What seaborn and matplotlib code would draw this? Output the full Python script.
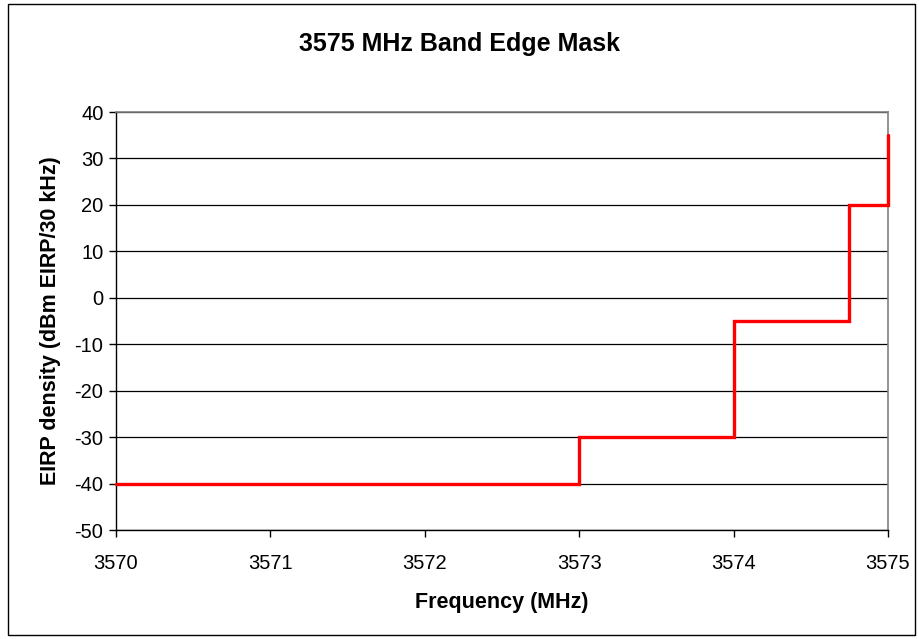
import matplotlib
matplotlib.use("Agg")
import matplotlib.pyplot as plt
import seaborn as sns
import pandas as pd
from matplotlib.patches import Rectangle

freq = [3570, 3573, 3573, 3574, 3574, 3574.75, 3574.75, 3575, 3575]
eirp = [-40, -40, -30, -30, -5, -5, 20, 20, 35]
x_ticks = [3570, 3571, 3572, 3573, 3574, 3575]
y_ticks = [-50, -40, -30, -20, -10, 0, 10, 20, 30, 40]

sns.set_theme(style="white")
plt.rcParams['font.family'] = ['Liberation Sans', 'DejaVu Sans']
plt.rcParams['text.color'] = 'black'
plt.rcParams['axes.labelcolor'] = 'black'

df = pd.DataFrame({"Frequency": freq, "EIRP": eirp, "order": range(len(freq))})

fig = plt.figure(figsize=(9.2, 6.39), dpi=100)
ax = fig.add_axes([116/920, 1-530/639, (888-116)/920, (530-112)/639])

sns.lineplot(data=df, x="Frequency", y="EIRP", sort=False, estimator=None,
             color="#ff0000", linewidth=2.4, ax=ax, zorder=3)
for ln in ax.lines:
    ln.set_clip_on(False)
    ln.set_solid_joinstyle("miter")

ax.set_xlim(3570, 3575)
ax.set_ylim(-50, 40)
ax.set_xticks(x_ticks)
ax.set_xticklabels([str(v) for v in x_ticks])
ax.set_yticks(y_ticks)
ax.set_yticklabels([str(v) for v in y_ticks])
ax.grid(axis="y", color="black", linewidth=0.9)
ax.grid(axis="x", visible=False)
ax.tick_params(axis="both", direction="out", length=5, width=1, color="black",
               labelsize=14.5, labelcolor="black", bottom=True, left=True, pad=4)
ax.tick_params(axis="x", pad=12)
for side in ["left", "bottom"]:
    ax.spines[side].set_color("black")
    ax.spines[side].set_linewidth(1)
for side in ["right", "top"]:
    ax.spines[side].set_visible(True)
    ax.spines[side].set_color("#808080")
    ax.spines[side].set_linewidth(1.2)

ax.set_xlabel("Frequency (MHz)", fontsize=15.5, fontweight="bold", labelpad=14)
ax.set_ylabel("EIRP density (dBm EIRP/30 kHz)", fontsize=15.5, fontweight="bold", labelpad=10)
fig.text(0.5, 1-44/639, "3575 MHz Band Edge Mask", ha="center", va="center",
         fontsize=18, fontweight="bold")

fig.patches.append(Rectangle((8/920, 1-635/639), (915-8)/920, (635-4)/639,
                             transform=fig.transFigure, fill=False,
                             edgecolor="black", linewidth=1))

fig.savefig("out.png", dpi=100)
